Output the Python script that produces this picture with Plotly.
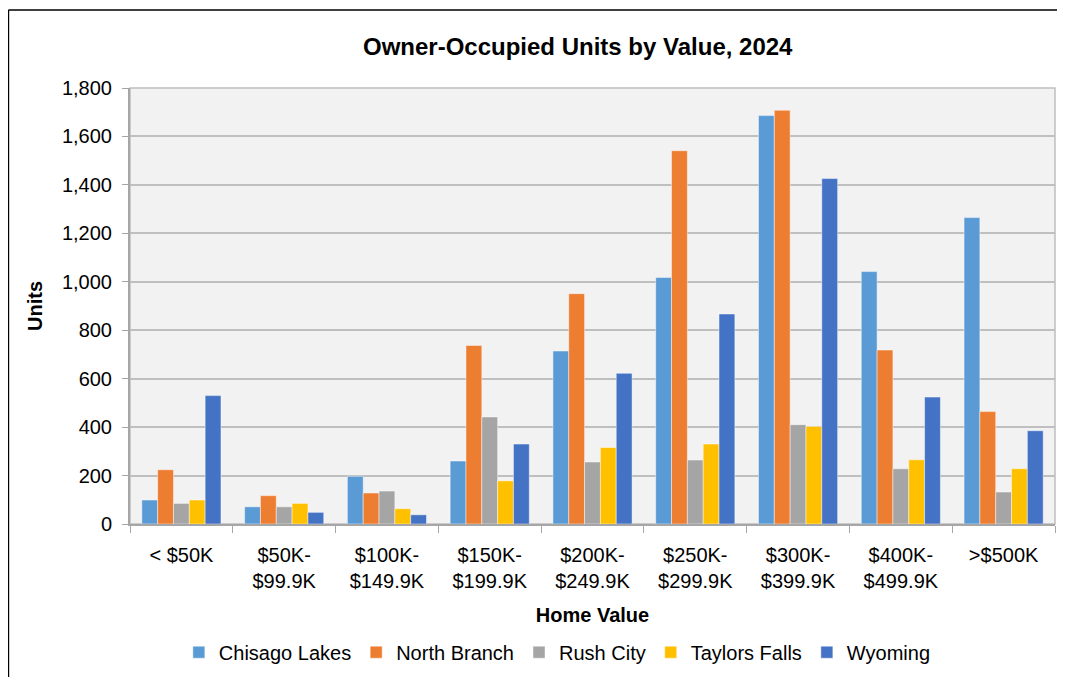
import plotly.graph_objects as go

categories = ["< $50K", "$50K-<br>$99.9K", "$100K-<br>$149.9K", "$150K-<br>$199.9K",
              "$200K-<br>$249.9K", "$250K-<br>$299.9K", "$300K-<br>$399.9K",
              "$400K-<br>$499.9K", ">$500K"]
chisago_lakes = [99, 71, 197, 260, 714, 1018, 1686, 1042, 1265]
north_branch = [224, 117, 128, 737, 951, 1541, 1708, 718, 464]
rush_city = [85, 71, 136, 442, 256, 264, 410, 228, 132]
taylors_falls = [99, 85, 63, 178, 316, 330, 403, 265, 228]
wyoming = [530, 48, 38, 330, 622, 867, 1426, 524, 385]

series = [
    ("Chisago Lakes", chisago_lakes, "#5B9BD5"),
    ("North Branch", north_branch, "#ED7D31"),
    ("Rush City", rush_city, "#A5A5A5"),
    ("Taylors Falls", taylors_falls, "#FFC000"),
    ("Wyoming", wyoming, "#4472C4"),
]

FONT = "Liberation Sans, Arial, sans-serif"

fig = go.Figure()
for name, vals, color in series:
    fig.add_trace(go.Bar(
        name=name, x=categories, y=vals,
        marker=dict(color=color, line=dict(color="rgba(255,255,255,0.45)", width=1)),
    ))

fig.update_layout(
    width=1057, height=669,
    barmode="group", bargap=0.23, bargroupgap=0,
    paper_bgcolor="white", plot_bgcolor="#F2F2F2",
    margin=dict(l=122, r=10, t=80, b=153, autoexpand=False),
    font=dict(family=FONT, size=20, color="black"),
    title=dict(text="<b>Owner-Occupied Units by Value, 2024</b>", x=0.539, xanchor="center",
               y=0.942, yanchor="middle", font=dict(size=24, family=FONT)),
    legend=dict(orientation="h", x=0.462, xanchor="center", y=-0.294, yanchor="middle",
                font=dict(size=20, family=FONT), itemwidth=30, traceorder="normal"),
    showlegend=True,
)
fig.update_xaxes(
    showline=True, linecolor="#A6A6A6", linewidth=2, automargin=False,
    ticks="outside", tickson="boundaries", ticklen=7, tickcolor="#A6A6A6",
    tickfont=dict(size=20, family=FONT), ticklabelstandoff=12,
    title=dict(text="<b>Home Value</b>", font=dict(size=20, family=FONT), standoff=17),
)
fig.update_yaxes(
    range=[0, 1800], dtick=200, tickformat=",", automargin=False,
    showgrid=True, gridcolor="#BFBFBF", gridwidth=1.5,
    showline=True, linecolor="#A6A6A6", linewidth=2,
    ticks="outside", ticklen=6, tickcolor="#A6A6A6",
    tickfont=dict(size=20, family=FONT), ticklabelstandoff=6,
    title=dict(text="<b>Units</b>", font=dict(size=20, family=FONT), standoff=14),
    zeroline=False,
)
# plot area border
fig.add_shape(type="rect", xref="paper", yref="paper", x0=0, x1=1, y0=0, y1=1,
              line=dict(color="#BFBFBF", width=1.5), layer="below")
# outer chart frame (top and left edges)
fig.add_shape(type="line", xref="paper", yref="paper", x0=-0.1314, x1=1.02, y0=1.1789, y1=1.1789,
              line=dict(color="black", width=1.5))
fig.add_shape(type="line", xref="paper", yref="paper", x0=-0.1314, x1=-0.1314, y0=-0.36, y1=1.1789,
              line=dict(color="black", width=1.5))

fig.write_html("out.html")
